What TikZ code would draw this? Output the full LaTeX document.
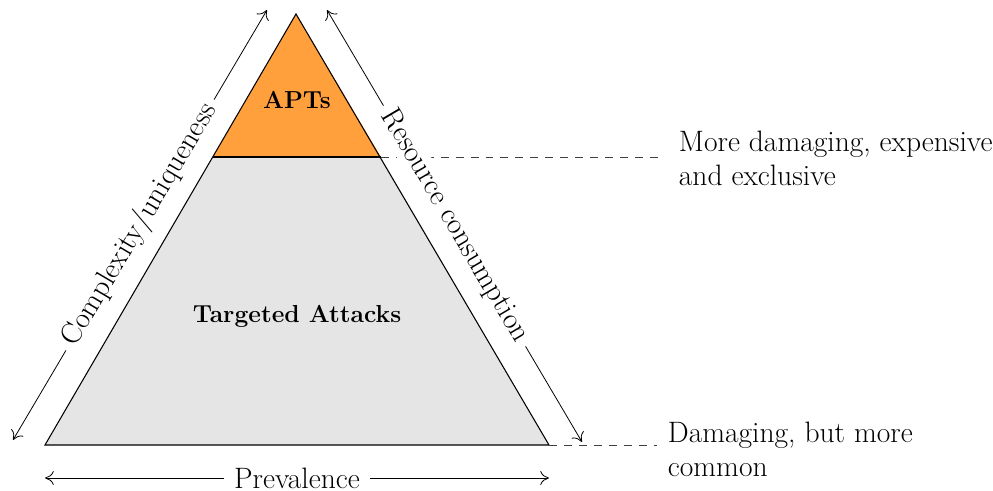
\documentclass[tikz,border=0pt]{standalone}
\usepackage{xcolor}
\definecolor{aptorange}{RGB}{255,160,60}
\definecolor{tagray}{RGB}{229,229,229}
\usepackage{tikz}
\usetikzlibrary{arrows.meta, positioning, calc}

\begin{document}
\begin{tikzpicture}[
    x=0.02cm, y=-0.02cm,
    layer/.style ={draw=black, line width=0.6pt},
    axis/.style ={{To[length=5pt,width=8pt]}-{To[length=5pt,width=8pt]},
                  line width=0.45pt, color=black},
    axislabel/.style ={font=\fontsize{16.8}{19.4}\selectfont, fill=white,
                  inner xsep=4pt, inner ysep=1pt, text=black},
    layerlabel/.style ={font=\fontsize{14}{17}\selectfont\bfseries},
    note/.style ={font=\fontsize{16.8}{19.4}\selectfont, align=left,
                  anchor=west, inner ysep=2pt},
    guide/.style ={dashed, dash pattern=on 4.5pt off 4pt, line width=0.45pt,
                  color=black!75}
]
\useasboundingbox (0,0) rectangle (993,490);
%% --- pyramide ---
\coordinate (top) at (296,14);
\coordinate (bl)  at (45,445);
\coordinate (br)  at (549,445);
\coordinate (ml)  at (213,157);
\coordinate (mr)  at (381,157);
\fill[tagray]     (ml) -- (mr) -- (br) -- (bl) -- cycle;
\fill[aptorange]  (top) -- (mr) -- (ml) -- cycle;
\draw[layer] (top) -- (br) -- (bl) -- cycle;
\draw[layer] (ml) -- (mr);
\node[layerlabel] (apt) at (297,100) {APTs};
\node[layerlabel] (ta)  at (297,316) {Targeted Attacks};

%% --- lignes guides vers les notes ---
\node[note, inner xsep=10pt] (n1) at (661,158) {More damaging, expensive\\and exclusive};
\node[note, inner xsep=6pt]  (n2) at (657,449) {Damaging, but more\\common};
\draw[guide] (mr) -- (n1.west |- mr);
\draw[guide] (br) -- (n2.west |- br);

%% --- axes ---
\coordinate (la) at (13,440);
\coordinate (lb) at (267,10);
\coordinate (ra) at (327,10);
\coordinate (rb) at (582,442);
\coordinate (pa) at (45,478);
\coordinate (pb) at (549,478);
\draw[axis] (la) -- node[axislabel, sloped] (cx) {Complexity/uniqueness} (lb);
\draw[axis] (ra) -- node[axislabel, sloped] (rc) {Resource consumption} (rb);
\draw[axis] (pa) -- node[axislabel, inner xsep=6pt, inner ysep=0pt] (pv) {Prevalence} (pb);
\end{tikzpicture}
\end{document}
